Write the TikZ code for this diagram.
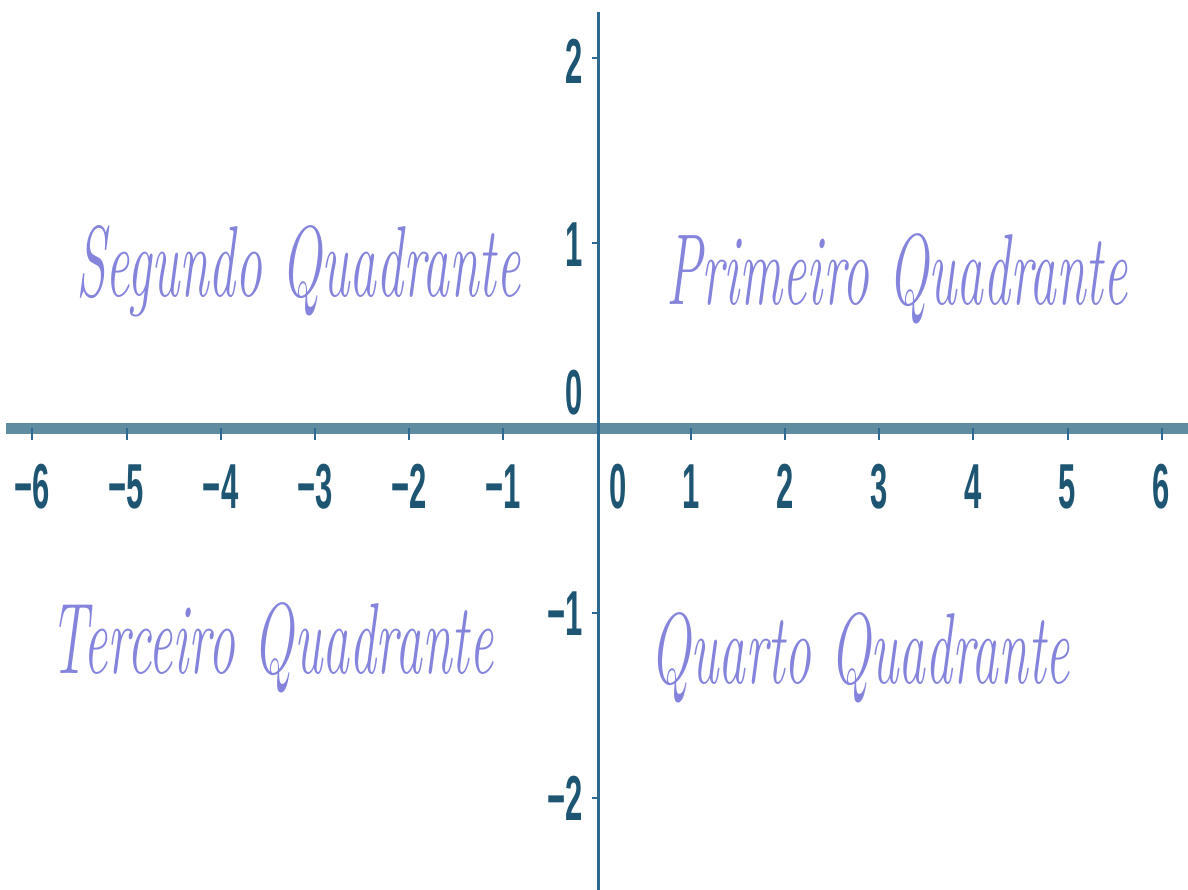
\documentclass[tikz,border=0pt]{standalone}
\usepackage{fontspec}
\usepackage{graphicx}
\newfontfamily\axfont{Liberation Sans}
\definecolor{quadtext}{RGB}{132,132,220}
\definecolor{axislab}{RGB}{30,85,115}
\definecolor{haxis}{RGB}{95,140,160}
\definecolor{vaxis}{RGB}{45,105,145}
\newcommand\talllab[1]{\scalebox{1}[2.05]{#1}}
\newcommand\tallquad[1]{\scalebox{1}[1.88]{#1}}
\begin{document}
\begin{tikzpicture}[x=1pt,y=-1pt,
  quad/.style={text=quadtext, inner sep=0pt, anchor=base west,
    font=\fontsize{53.6}{60}\selectfont\itshape},
  xlab/.style={text=axislab, inner sep=0pt, anchor=base,
    font=\axfont\bfseries\fontsize{31}{36}\selectfont},
  ylab/.style={xlab, anchor=base east},
  haxisline/.style={draw=haxis, line width=11pt},
  vaxisline/.style={draw=vaxis, line width=3pt},
  tickmark/.style={draw=vaxis, line width=2pt}]
\fill[white] (0,0) rectangle (1188,890);
\useasboundingbox (0,0) rectangle (1188,890);
% axes
\coordinate (hl) at (6,428);
\coordinate (hr) at (1188,428);
\coordinate (vt) at (598,12);
\coordinate (vb) at (598,890);
\draw[haxisline] (hl) -- (hr);
% x ticks
\foreach \i in {-6,...,-1,1,2,...,6}
  \draw[tickmark] (597+94.1*\i,428) -- ++(0,12);
% y ticks
\foreach \j in {-2,-1,1,2}
  \draw[tickmark] (598,428-185*\j) -- ++(-6,0);
\draw[vaxisline] (vt) -- (vb);
% x labels
\node[xlab] (xm6) at (597-94.1*6,508) {\talllab{−6}};
\node[xlab] (xm5) at (597-94.1*5,508) {\talllab{−5}};
\node[xlab] (xm4) at (597-94.1*4,508) {\talllab{−4}};
\node[xlab] (xm3) at (597-94.1*3,508) {\talllab{−3}};
\node[xlab] (xm2) at (597-94.1*2,508) {\talllab{−2}};
\node[xlab] (xm1) at (597-94.1*1,508) {\talllab{−1}};
\node[xlab] (x0) at (618,508) {\talllab{0}};
\node[xlab] (x1) at (597+94.1*1,508) {\talllab{1}};
\node[xlab] (x2) at (597+94.1*2,508) {\talllab{2}};
\node[xlab] (x3) at (597+94.1*3,508) {\talllab{3}};
\node[xlab] (x4) at (597+94.1*4,508) {\talllab{4}};
\node[xlab] (x5) at (597+94.1*5,508) {\talllab{5}};
\node[xlab] (x6) at (597+94.1*6,508) {\talllab{6}};
% y labels
\node[ylab] (y2) at (583,84) {\talllab{2}};
\node[ylab] (y1) at (583,267) {\talllab{1}};
\node[ylab] (y0) at (583,414) {\talllab{0}};
\node[ylab] (ym1) at (583,635) {\talllab{−1}};
\node[ylab] (ym2) at (583,820) {\talllab{−2}};
% quadrant names
\node[quad] (q2) at (76,297) {\tallquad{Segundo Quadrante}};
\node[quad] (q1) at (666,305) {\tallquad{Primeiro Quadrante}};
\node[quad] (q3) at (50,673) {\tallquad{Terceiro Quadrante}};
\node[quad] (q4) at (650,683) {\tallquad{Quarto Quadrante}};
\end{tikzpicture}
\end{document}
